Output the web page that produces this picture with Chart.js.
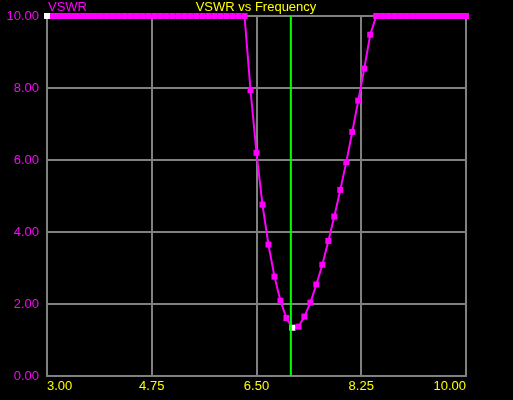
<!DOCTYPE html>
<html>
<head>
<meta charset="utf-8">
<title>VSWR vs Frequency</title>
<script src="https://cdn.jsdelivr.net/npm/chart.js@4"></script>
<style>
    html, body { margin: 0; padding: 0; background: #000; }
    #wrap { width: 513px; height: 400px; }
</style>
</head>
<body>
<div id="wrap"><canvas id="vswrChart" width="513" height="400"></canvas></div>
<script>
// Frequency points (MHz)
const freqs = [
    3.0, 3.1, 3.2, 3.3, 3.4, 3.5, 3.6, 3.7, 3.8, 3.9,
    4.0, 4.1, 4.2, 4.3, 4.4, 4.5, 4.6, 4.7, 4.8, 4.9,
    5.0, 5.1, 5.2, 5.3, 5.4, 5.5, 5.6, 5.7, 5.8, 5.9,
    6.0, 6.1, 6.2, 6.3, 6.4, 6.5, 6.6, 6.7, 6.8, 6.9,
    7.0, 7.1, 7.2, 7.3, 7.4, 7.5, 7.6, 7.7, 7.8, 7.9,
    8.0, 8.1, 8.2, 8.3, 8.4, 8.5, 8.6, 8.7, 8.8, 8.9,
    9.0, 9.1, 9.2, 9.3, 9.4, 9.5, 9.6, 9.7, 9.8, 9.9,
    10.0
];

// Measured VSWR (clipped at 10.00)
const vswr = [
    10, 10, 10, 10, 10, 10, 10, 10, 10, 10,
    10, 10, 10, 10, 10, 10, 10, 10, 10, 10,
    10, 10, 10, 10, 10, 10, 10, 10, 10, 10,
    10, 10, 10, 10, 7.94, 6.20, 4.76, 3.65, 2.76, 2.09,
    1.61, 1.34, 1.37, 1.65, 2.04, 2.54, 3.09, 3.75, 4.43, 5.17,
    5.94, 6.78, 7.65, 8.54, 9.48, 10, 10, 10, 10, 10,
    10, 10, 10, 10, 10, 10, 10, 10, 10, 10,
    10
];

// highlighted points (start cursor + minimum)
const markedFreqs = [3.0, 7.1];

// marker line frequency
const markerFreq = [7.074];
const markerSpan = [0, 10];

const xTicks = [3.0, 4.75, 6.5, 8.25, 10.0];
const yTicks = [0, 2, 4, 6, 8, 10];

const MAGENTA = '#ff00ff';
const YELLOW = '#ffff00';
const GRID = '#808080';
const FONT = '"Liberation Sans", Arial, sans-serif';

// plugin for title and axis name
const headerText = {
    id: 'headerText',
    afterDraw(chart) {
        const ctx = chart.ctx;
        ctx.save();
        ctx.font = '13px ' + FONT;
        ctx.textBaseline = 'top';
        ctx.fillStyle = YELLOW;
        ctx.textAlign = 'center';
        ctx.fillText('VSWR vs Frequency', 256, 1);
        ctx.fillStyle = MAGENTA;
        ctx.textAlign = 'left';
        ctx.fillText('VSWR', 48, 1);
        ctx.restore();
    }
};

document.addEventListener('DOMContentLoaded', function() {
    const ctx = document.getElementById('vswrChart').getContext('2d');

    const points = freqs.map((f, i) => ({ x: f, y: vswr[i] }));
    const pointColors = freqs.map(f => markedFreqs.includes(f) ? '#ffffff' : MAGENTA);

    new Chart(ctx, {
        type: 'line',
        data: {
            datasets: [{
                label: 'Marker',
                data: markerSpan.map(v => ({ x: markerFreq[0], y: v })),
                borderColor: '#00ff00',
                borderWidth: 2,
                pointRadius: 0,
                order: 0
            }, {
                label: 'VSWR',
                data: points,
                borderColor: MAGENTA,
                borderWidth: 2,
                pointStyle: 'rect',
                pointRadius: 4.25,
                pointBorderWidth: 0,
                pointBackgroundColor: pointColors,
                clip: false,
                order: 1
            }]
        },
        options: {
            responsive: false,
            animation: false,
            layout: { padding: { top: 16, right: 47, left: 0, bottom: 0 } },
            plugins: {
                legend: { display: false },
                title: { display: false },
                tooltip: { enabled: false }
            },
            scales: {
                x: {
                    type: 'linear',
                    min: 3,
                    max: 10,
                    afterBuildTicks: scale => { scale.ticks = xTicks.map(v => ({ value: v })); },
                    afterFit: scale => { scale.height = 24; },
                    grid: { color: GRID, lineWidth: 2, drawTicks: false },
                    border: { color: GRID, width: 2 },
                    ticks: {
                        color: YELLOW,
                        font: { family: FONT, size: 13 },
                        padding: 3,
                        align: 'inner',
                        maxRotation: 0,
                        callback: v => v.toFixed(2)
                    }
                },
                y: {
                    min: 0,
                    max: 10,
                    afterBuildTicks: scale => { scale.ticks = yTicks.map(v => ({ value: v })); },
                    afterFit: scale => { scale.width = 47; },
                    grid: { color: GRID, lineWidth: 2, drawTicks: false },
                    border: { color: GRID, width: 2 },
                    ticks: {
                        color: MAGENTA,
                        font: { family: FONT, size: 13 },
                        padding: 8,
                        callback: v => v.toFixed(2)
                    }
                }
            }
        },
        plugins: [headerText]
    });
});
</script>
</body>
</html>
